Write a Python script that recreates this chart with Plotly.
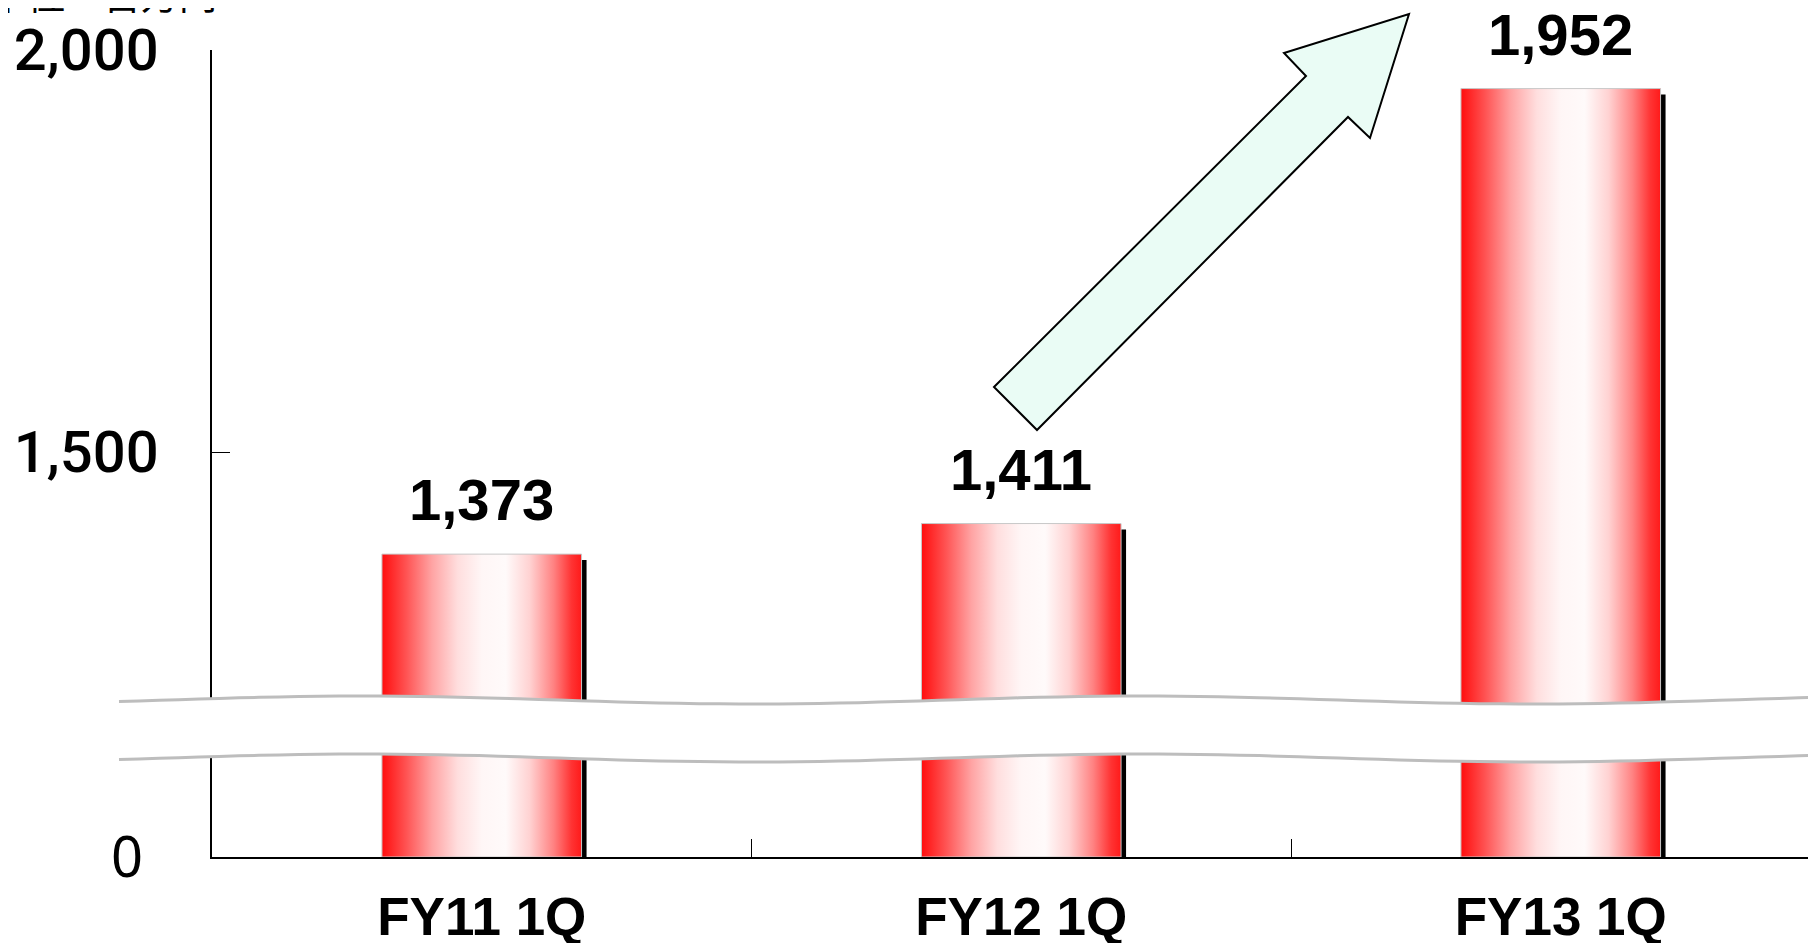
import math
import plotly.graph_objects as go

# ---------------- data ----------------
categories = ["FY11 1Q", "FY12 1Q", "FY13 1Q"]
values = [1373, 1411, 1952]
value_labels = ["1,373", "1,411", "1,952"]
upper_ticks = [1500, 2000]
upper_tick_labels = ["1,500", "2,000"]
lower_ticks = [0]
lower_tick_labels = ["0"]
unit_text = "単位：百万円"

# ---------------- geometry / style (page pixel coordinates) ----------------
OFF = 8                              # page offset of the figure (body margin)
W, H = 1816 - OFF, 943 - OFF
AXIS_X = 212                         # page x of the y axis
AXIS_Y = 857                         # page y of the x axis
ML = AXIS_X - OFF
PLOT_H = AXIS_Y - OFF
MB = H - PLOT_H
PLOT_W = W - ML
CAT_PX = 539.5                       # pixel width of one category
X_RANGE = [-0.5, -0.5 + PLOT_W / CAT_PX]
BAR_W = 0.37
BREAK_Y = 728                        # page y where the two panels meet
TOP_Y = 50                           # page y of the 2,000 tick
PX_PER_UNIT = (452 - 50) / 500.0
UPPER_LOW = 1500 - (BREAK_Y - 452) / PX_PER_UNIT


def px_to_paper(X, Y):
    return (X - AXIS_X) / PLOT_W, (AXIS_Y - Y) / PLOT_H


dom_break = (AXIS_Y - BREAK_Y) / PLOT_H
dom_top = (AXIS_Y - TOP_Y) / PLOT_H

grad = [
    [0.0, "#ff0d0d"], [0.12, "#ff5252"], [0.25, "#ffa3a3"], [0.38, "#ffdede"],
    [0.5, "#fff6f6"], [0.62, "#fffafa"], [0.74, "#ffd2d2"], [0.86, "#ff8282"],
    [0.95, "#ff3333"], [1.0, "#ff1a1a"],
]

fig = go.Figure()

for ax in ("y", "y2"):
    for i, v in enumerate(values):
        xs = [i - BAR_W / 2, i + BAR_W / 2, i + BAR_W / 2, i - BAR_W / 2, i - BAR_W / 2]
        ys = [0, 0, v, v, 0]
        fig.add_trace(go.Scatter(
            x=xs, y=ys, mode="lines", fill="toself", xaxis="x", yaxis=ax,
            line=dict(color="#c8c8c8", width=1),
            fillgradient=dict(type="horizontal", colorscale=grad),
            hoverinfo="skip", showlegend=False,
        ))

shapes = []
# shadows behind bars (drawn below traces)
SH = 5 / CAT_PX
for i, v in enumerate(values):
    shapes.append(dict(
        type="rect", layer="below", xref="x", yref="y2",
        x0=i + BAR_W / 2 - 0.02, x1=i + BAR_W / 2 + SH,
        ysizemode="pixel", yanchor=v, y0=-2000, y1=-6,
        fillcolor="black", line=dict(width=0),
    ))
    shapes.append(dict(
        type="rect", layer="below", xref="x", yref="y",
        x0=i + BAR_W / 2 - 0.02, x1=i + BAR_W / 2 + SH,
        y0=0, y1=v, fillcolor="black", line=dict(width=0),
    ))


# axis break band with wavy edges
def wave(X, base):
    return base + 4 * math.sin(2 * math.pi * (X - 558) / 780)


xs_px = [119 + k * 20 for k in range(0, 87)]
top_pts = [px_to_paper(X, wave(X, 700)) for X in xs_px]
bot_pts = [px_to_paper(X, wave(X, 758)) for X in xs_px]


def path_of(pts, close=False):
    s = "M " + " L ".join(f"{a:.5f},{b:.5f}" for a, b in pts)
    return s + (" Z" if close else "")


shapes.append(dict(type="path", xref="paper", yref="paper", layer="above",
                   path=path_of(top_pts + bot_pts[::-1], close=True),
                   fillcolor="white", line=dict(width=0)))
for pts in (top_pts, bot_pts):
    shapes.append(dict(type="path", xref="paper", yref="paper", layer="above",
                       path=path_of(pts), line=dict(color="#bdbdbd", width=3)))

# block arrow
arrow_px = [(994, 387), (1306, 76), (1284, 53), (1409, 14), (1370, 138), (1348, 117), (1037, 430)]
arrow_pts = [px_to_paper(X, Y) for X, Y in arrow_px]
shapes.append(dict(type="path", xref="paper", yref="paper", layer="above",
                   path=path_of(arrow_pts, close=True),
                   fillcolor="#eafcf5", line=dict(color="black", width=2)))

annotations = []
for i, (v, t) in enumerate(zip(values, value_labels)):
    annotations.append(dict(
        x=i, y=v, xref="x", yref="y2", text=t, showarrow=False,
        yanchor="bottom", yshift=20,
        font=dict(family="Liberation Sans", size=58, color="black", weight="bold"),
    ))
ux, uy = px_to_paper(219, 22)
annotations.append(dict(
    x=ux, y=uy, xref="paper", yref="paper", text=unit_text, showarrow=False,
    xanchor="right", yanchor="bottom",
    font=dict(family="Noto Sans CJK JP", size=38, color="black"),
))

fig.update_layout(
    width=W, height=H,
    margin=dict(l=ML, r=0, t=0, b=MB, autoexpand=False),
    paper_bgcolor="white", plot_bgcolor="white",
    showlegend=False,
    xaxis=dict(
        domain=[0, 1], anchor="y", range=X_RANGE, automargin=False,
        tickvals=[0, 1, 2], ticktext=categories, ticks="",
        showline=True, linecolor="black", linewidth=1.5,
        showgrid=False, zeroline=False, ticklabelstandoff=13,
        tickfont=dict(family="Liberation Sans", size=53, color="black", weight="bold"),
        minor=dict(tickvals=[0.5, 1.5], ticks="inside", ticklen=18,
                   tickcolor="black", tickwidth=1, showgrid=False),
    ),
    yaxis=dict(
        domain=[0, dom_break], anchor="x", range=[0, 100], automargin=False,
        tickvals=lower_ticks, ticktext=lower_tick_labels, ticks="",
        showline=True, linecolor="black", linewidth=1.5,
        showgrid=False, zeroline=False, ticklabelstandoff=56,
        tickfont=dict(family="Noto Sans", size=56, color="black"),
    ),
    yaxis2=dict(
        domain=[dom_break, dom_top], anchor="x", range=[UPPER_LOW, 2000], automargin=False,
        tickvals=upper_ticks, ticktext=upper_tick_labels,
        ticks="inside", ticklen=18, tickcolor="black", tickwidth=1,
        showline=True, linecolor="black", linewidth=1.5,
        showgrid=False, zeroline=False, ticklabelstandoff=40,
        tickfont=dict(family="Roboto", size=58, color="black", weight=500),
    ),
    shapes=shapes,
    annotations=annotations,
)

fig.write_html("out.html")
